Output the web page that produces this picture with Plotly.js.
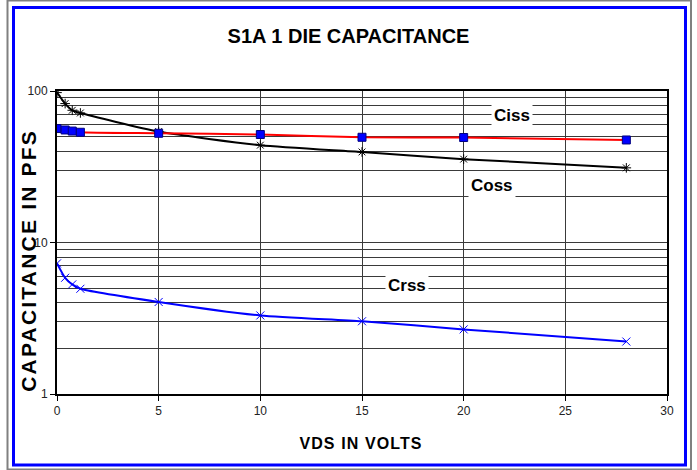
<!DOCTYPE html>
<html><head><meta charset="utf-8">
<script src="https://cdn.plot.ly/plotly-3.0.1.min.js"></script>
<style>html,body{margin:0;padding:0;background:#fff;}#chart{width:697px;height:470px;}</style>
</head><body><div id="chart"></div>
<script>
const vds = [0, 0.4, 0.75, 1.15, 5, 10, 15, 20, 28];
const ciss = [56.5, 55.3, 54.4, 53.4, 52.6, 51.6, 49.5, 49.3, 47.5];
const coss = [97.6, 82.6, 74.6, 71.6, 54.0, 43.9, 39.6, 35.5, 31.1];
const crss = [7.28, 5.85, 5.29, 4.95, 4.05, 3.30, 3.02, 2.67, 2.22];
const yMajor = [1, 10, 100];
const yMajorText = ['1', '10', '100'];
const yMinor = [2,3,4,5,6,7,8,9,20,30,40,50,60,70,80,90];
const labels = [
  {text: 'Ciss', x: 22.4, y: 69.2},
  {text: 'Coss', x: 21.4, y: 23.9},
  {text: 'Crss', x: 17.2, y: 5.19}
];
const chartTitle = 'S1A 1 DIE CAPACITANCE';
const xTitle = 'VDS IN VOLTS';
const yTitle = 'CAPACITANCE IN PFS';

const W = 697, H = 470, L = 57, R = 30, T = 91, B = 76;
const pw = W - L - R, ph = H - T - B;
const px = v => (v - L) / pw;
const py = v => (H - B - v) / ph;
const FONT = 'Liberation Sans, Arial, sans-serif';

const data = [
  {x: vds, y: coss, mode: 'lines+markers', line: {color: '#000', width: 2, shape: 'spline', smoothing: 0.6},
   marker: {symbol: 'asterisk-open', size: 8, color: '#000', line: {color: '#000', width: 1}}, name: 'Coss'},
  {x: vds, y: ciss, mode: 'lines+markers', line: {color: '#ff0000', width: 2, shape: 'spline', smoothing: 0.6},
   marker: {symbol: 'square', size: 8, color: '#0000ff', line: {color: '#000080', width: 1}}, name: 'Ciss'},
  {x: vds, y: crss, mode: 'lines+markers', line: {color: '#0000ff', width: 2, shape: 'spline', smoothing: 0.6},
   marker: {symbol: 'x-thin-open', size: 8, color: '#0000ff', line: {color: '#0000ff', width: 1}}, name: 'Crss'}
];

const annotations = labels.map(a => ({
  x: a.x, y: Math.log10(a.y), xref: 'x', yref: 'y', text: '<b>' + a.text + '</b>',
  showarrow: false, bgcolor: '#fff', borderpad: 2,
  font: {size: 17, color: '#000', family: FONT}
}));
annotations.push({
  x: px(361), y: py(443), xref: 'paper', yref: 'paper', text: '<b>' + xTitle + '</b>',
  showarrow: false, xanchor: 'center', yanchor: 'middle',
  font: {size: 16, color: '#000', family: FONT}, name: 'xtitle'
});
annotations.push({
  x: px(28), y: py(261), xref: 'paper', yref: 'paper', text: '<b>' + yTitle + '</b>',
  showarrow: false, xanchor: 'center', yanchor: 'middle', textangle: -90,
  font: {size: 21, color: '#000', family: FONT}, name: 'ytitle'
});

const layout = {
  width: W, height: H,
  margin: {l: L, r: R, t: T, b: B},
  paper_bgcolor: '#fff', plot_bgcolor: '#fff',
  showlegend: false,
  font: {family: FONT, color: '#000'},
  title: {text: '<b>' + chartTitle + '</b>', font: {size: 20, color: '#000', family: FONT},
          x: 0.5, xanchor: 'center', y: 1 - 36 / H, yanchor: 'middle'},
  xaxis: {
    range: [0, 30], dtick: 5, tick0: 0,
    ticks: 'outside', ticklen: 5, tickcolor: '#000', tickwidth: 1,
    showline: true, linecolor: '#000', linewidth: 2, mirror: true,
    showgrid: true, gridcolor: '#3a3a3a', gridwidth: 1, zeroline: false,
    tickfont: {size: 12, color: '#222'}
  },
  yaxis: {
    type: 'log', range: [0, 2],
    tickmode: 'array', tickvals: yMajor, ticktext: yMajorText,
    ticks: 'outside', ticklen: 5, tickcolor: '#000', tickwidth: 1,
    showline: true, linecolor: '#000', linewidth: 2, mirror: true,
    showgrid: true, gridcolor: '#3a3a3a', gridwidth: 1, zeroline: false,
    tickfont: {size: 12, color: '#222'},
    minor: {tickmode: 'array', tickvals: yMinor, showgrid: true, gridcolor: '#3a3a3a', gridwidth: 1, ticks: ''}
  },
  annotations: annotations,
  shapes: [
    {type: 'rect', xref: 'paper', yref: 'paper', x0: px(7.5), x1: px(691), y0: py(0.5), y1: py(469.5),
     line: {color: '#808080', width: 2}, layer: 'below'},
    {type: 'rect', xref: 'paper', yref: 'paper', x0: px(13.5), x1: px(685.5), y0: py(7.5), y1: py(465),
     line: {color: '#0000ff', width: 3}, layer: 'below'}
  ]
};

Plotly.newPlot('chart', data, layout, {staticPlot: true, displayModeBar: false}).then(gd => {
  const texts = gd.querySelectorAll('.annotation-text');
  texts.forEach(t => {
    const s = t.textContent;
    if (s === yTitle) t.style.letterSpacing = '2.2px';
    if (s === xTitle) t.style.letterSpacing = '1.1px';
  });
});
</script></body></html>
